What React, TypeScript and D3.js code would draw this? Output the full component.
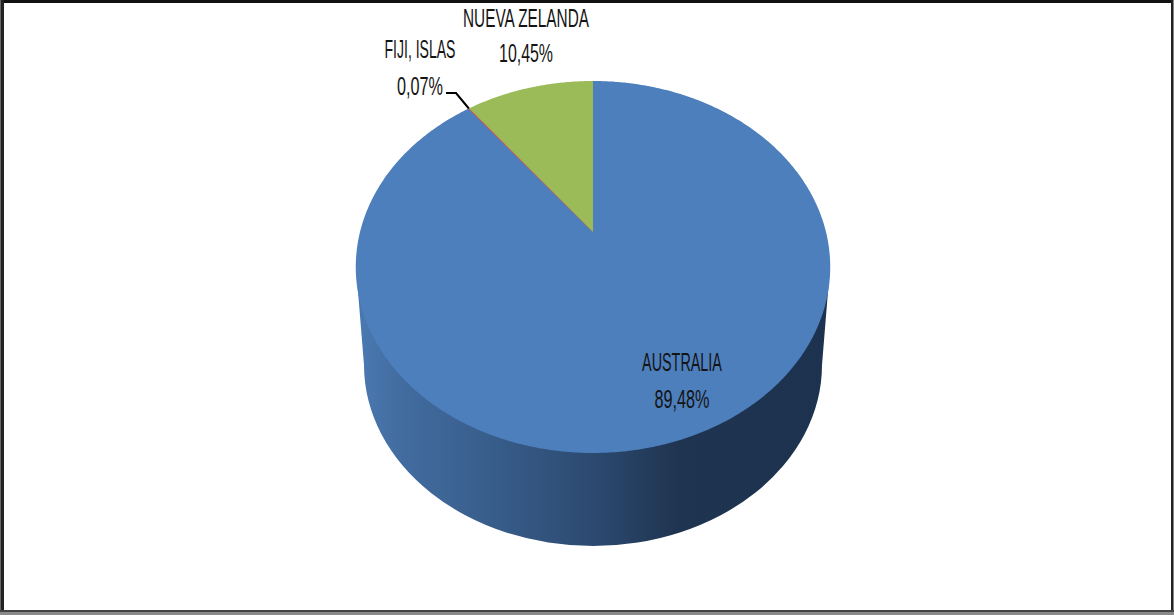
import React from "react";
import * as d3 from "d3";

const categories = ["AUSTRALIA", "FIJI, ISLAS", "NUEVA ZELANDA"];
const shares = [89.48, 0.07, 10.45];
const sliceColors = ["#4d7fbc", "#c0504d", "#9bbb59"];

const W = 1174;
const H = 615;

// Label placement: centre x, baselines, and rendered widths of the two lines
const labelLayout = [
  { x: 682, y1: 371, y2: 408, w1: 80, w2: 55 },
  { x: 420, y1: 58, y2: 95, w1: 71, w2: 46 },
  { x: 526, y1: 27, y2: 62, w1: 126, w2: 54 },
];

// Perspective projection of the unit disc onto the pie's top face
const CX = 593;
const P = { a: 0.188, A: -135.8, B: 232, C: 233 };
const project = (angle: number): [number, number] => {
  const u = Math.sin(angle);
  const v = Math.cos(angle);
  const d = 1 + P.a * v;
  return [CX + (P.C * u) / d, (P.A * v + P.B) / d];
};
const centre: [number, number] = [CX, P.B];

const pieGen = d3.pie<number>().sort(null).value((d) => d);
const arcs = pieGen(shares);
const line = d3.line<[number, number]>();

const slicePath = (start: number, end: number) => {
  const n = Math.max(2, Math.ceil((end - start) / 0.01));
  const angle = d3.scaleLinear().domain([0, n]).range([start, end]);
  const pts = d3.range(n + 1).map((i) => project(angle(i)));
  return line([centre, ...pts, centre]) + "Z";
};

const side = { topY: 267, topL: 356, topR: 830, botCy: 365, botRx: 229, botRy: 181 };
const sidePath =
  `M${side.topL},${side.topY}L${CX - side.botRx},${side.botCy}` +
  `A${side.botRx},${side.botRy} 0 0 0 ${CX + side.botRx},${side.botCy}` +
  `L${side.topR},${side.topY}Z`;

const gradientStops = [
  [0, "#4a79b2"],
  [0.1, "#426c9f"],
  [0.3, "#375c89"],
  [0.5, "#2c4a70"],
  [0.68, "#1f3450"],
  [1, "#1d324e"],
];

const labelFont = "'Liberation Sans', Arial, sans-serif";

// Text squeezed horizontally to the reference's condensed width
function Squeezed({ x, y, width, children }: { x: number; y: number; width: number; children: string }) {
  const ref = (el: SVGTextElement | null) => {
    if (!el) return;
    const natural = el.getComputedTextLength();
    el.setAttribute("transform", `translate(${x},${y}) scale(${width / natural},1)`);
  };
  return <text ref={ref}>{children}</text>;
}

export default function App() {
  const leaderEnd = project((arcs[1].startAngle + arcs[1].endAngle) / 2);
  const leader = line([[446, 93], [456, 93], leaderEnd]) as string;
  return (
    <svg
      width={W}
      height={H}
      viewBox={`0 0 ${W} ${H}`}
      style={{ position: "fixed", left: 0, top: 0, display: "block" }}
    >
      <defs>
        <linearGradient id="sideGrad" gradientUnits="userSpaceOnUse" x1={356} x2={830} y1={0} y2={0}>
          {gradientStops.map(([o, c]) => (
            <stop key={o as number} offset={o as number} stopColor={c as string} />
          ))}
        </linearGradient>
      </defs>
      <rect width={W} height={H} fill="#ffffff" />
      <rect x={0} y={0} width={W} height={3} fill="#111111" />
      <rect x={0} y={0} width={1} height={H} fill="#666666" />
      <rect x={1} y={0} width={3} height={H} fill="#222222" />
      <rect x={1171} y={0} width={2} height={H} fill="#222222" />
      <rect x={1173} y={0} width={1} height={H} fill="#888888" />
      <rect x={0} y={610} width={W} height={2} fill="#444444" />
      <rect x={0} y={612} width={W} height={3} fill="#8a8a8a" />

      <path d={sidePath} fill="url(#sideGrad)" />
      {arcs.map((a, i) => (
        <path key={categories[i]} d={slicePath(a.startAngle, a.endAngle)} fill={sliceColors[i]} stroke={i === 1 ? sliceColors[i] : "none"} strokeWidth={0.8} />
      ))}
      <path d={leader} fill="none" stroke="#000000" strokeWidth={2} />

      {categories.map((name, i) => {
        const l = labelLayout[i];
        return (
          <g key={name} fontFamily={labelFont} fontSize={25} fill="#141414" textAnchor="middle">
            <Squeezed x={l.x} y={l.y1} width={l.w1}>{name}</Squeezed>
            <Squeezed x={l.x} y={l.y2} width={l.w2}>{shares[i].toFixed(2).replace(".", ",") + "%"}</Squeezed>
          </g>
        );
      })}
    </svg>
  );
}
